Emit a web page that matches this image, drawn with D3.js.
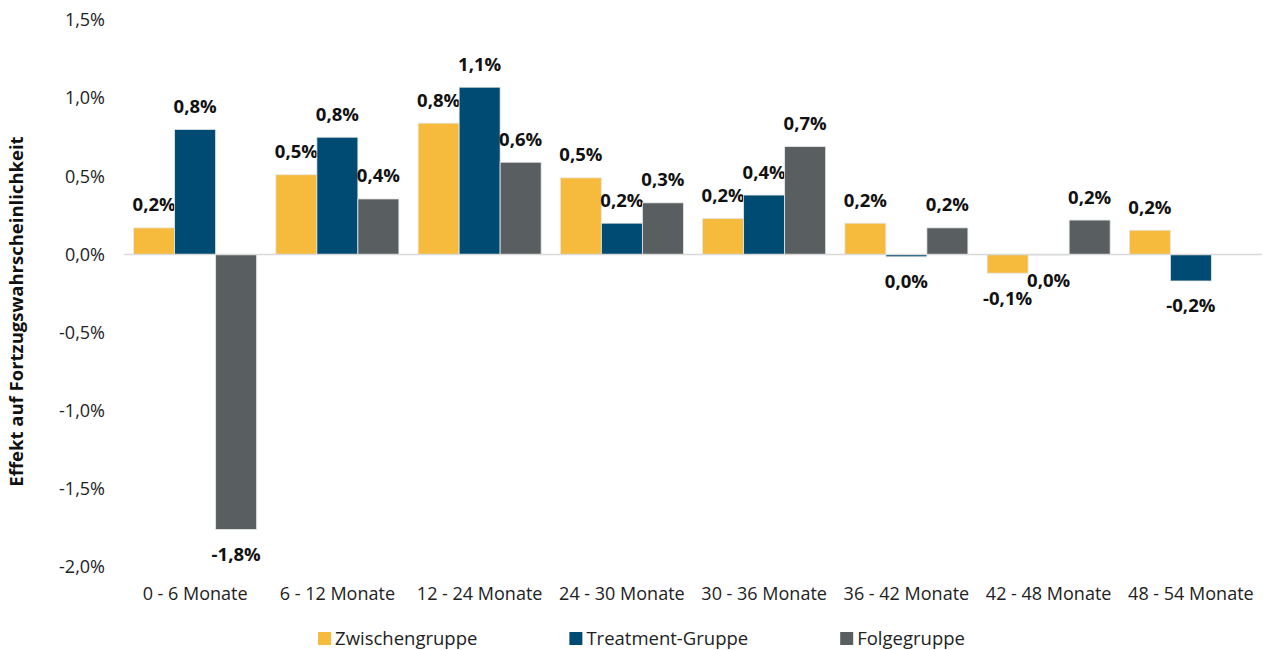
<!DOCTYPE html>
<html>
<head>
<meta charset="utf-8">
<script src="https://cdn.jsdelivr.net/npm/d3@7"></script>
<style>
  body { margin: 0; background: #fff; }
  svg { display: block; font-family: "Open Sans", sans-serif; }
</style>
</head>
<body>
<svg id="chart" width="1273" height="650"></svg>
<script>
const categories = ["0 - 6 Monate", "6 - 12 Monate", "12 - 24 Monate", "24 - 30 Monate",
                    "30 - 36 Monate", "36 - 42 Monate", "42 - 48 Monate", "48 - 54 Monate"];
const seriesNames = ["Zwischengruppe", "Treatment-Gruppe", "Folgegruppe"];
// values in percent
const zwischen  = [0.17, 0.51, 0.84, 0.49, 0.23, 0.20, -0.12, 0.155];
const treatment = [0.80, 0.75, 1.07, 0.20, 0.38, -0.015, -0.004, -0.17];
const folge     = [-1.76, 0.355, 0.59, 0.33, 0.69, 0.17, 0.22, null];
const yTicks = [-2, -1.5, -1, -0.5, 0, 0.5, 1, 1.5];

const colors = ["#F6BA3D", "#004B74", "#595F61"];
const series = [zwischen, treatment, folge];

const svg = d3.select("#chart"),
      plotLeft = 124, plotRight = 1262, plotTop = 20, plotBottom = 567,
      fontMain = "'Open Sans', sans-serif";

let x0 = d3.scaleBand()
    .domain(categories)
    .range([plotLeft, plotRight])
    .paddingInner(0.135)
    .paddingOuter(0.0675);

let x1 = d3.scaleBand()
    .domain(seriesNames)
    .range([0, x0.bandwidth()]);

let y = d3.scaleLinear()
    .domain([-2, 1.5])
    .range([plotBottom, plotTop]);

const deMinus = s => s.replace("\u2212", "-").replace(".", ",");
const fmt = v => deMinus(d3.format(".1f")(v)) + "%";
const fmtLabel = v => (Math.abs(v) < 0.05 ? "0,0" : deMinus(d3.format(".1f")(v))) + "%";

// y axis
let yAxis = d3.axisLeft(y).tickValues(yTicks).tickFormat(fmt).tickSize(0).tickPadding(0);
svg.append("g")
    .attr("transform", `translate(105,0)`)
    .call(yAxis)
    .call(g => g.select(".domain").remove())
    .selectAll("text")
    .attr("font-size", 18)
    .attr("font-family", fontMain)
    .attr("fill", "#222");

// bars
const groups = svg.append("g").selectAll("g")
    .data(categories)
    .join("g")
    .attr("transform", d => `translate(${x0(d)},0)`);

seriesNames.forEach((name, si) => {
    const vals = series[si];
    const val = d => vals[categories.indexOf(d)];
    const sel = groups.filter((d, i) => vals[i] !== null);

    sel.append("rect")
        .attr("x", x1(name))
        .attr("width", x1.bandwidth())
        .attr("y", d => y(Math.max(0, val(d))))
        .attr("height", d => Math.abs(y(val(d)) - y(0)))
        .attr("fill", colors[si])
        .attr("stroke", "#e8e8e8")
        .attr("stroke-width", 0.8);

    sel.append("text")
        .attr("x", x1(name) + x1.bandwidth() / 2)
        .attr("y", d => val(d) >= 0 ? y(val(d)) - 23 : y(val(d)) + 25)
        .attr("dy", "0.35em")
        .attr("text-anchor", "middle")
        .attr("font-size", 18.5)
        .attr("font-weight", "bold")
        .attr("fill", "#111")
        .text(d => fmtLabel(val(d)));
});

// zero line
svg.append("line")
    .attr("x1", plotLeft).attr("x2", plotRight)
    .attr("y1", y(0)).attr("y2", y(0))
    .attr("stroke", "#d9d9d9")
    .attr("stroke-width", 1.5);

// x axis labels
let xAxis = d3.axisBottom(x0).tickSize(0).tickPadding(0);
svg.append("g")
    .attr("transform", `translate(0,${plotBottom + 27})`)
    .call(xAxis)
    .call(g => g.select(".domain").remove())
    .selectAll("text")
    .attr("dy", "0.35em")
    .attr("font-size", 18)
    .attr("font-family", fontMain)
    .attr("fill", "#222");

// axis title
svg.append("text")
    .attr("transform", `translate(17,${(plotTop + plotBottom) / 2 + 18}) rotate(-90)`)
    .attr("text-anchor", "middle")
    .attr("dy", "0.35em")
    .attr("font-size", 18.5)
    .attr("font-weight", "bold")
    .attr("fill", "#111")
    .text("Effekt auf Fortzugswahrscheinlichkeit");

// legend
const legend = svg.append("g");
const items = legend.selectAll("g").data(seriesNames).join("g");
items.append("rect")
    .attr("width", 13).attr("height", 13)
    .attr("y", 632)
    .attr("fill", (d, i) => colors[i]);
items.append("text")
    .attr("x", 17)
    .attr("y", 639)
    .attr("dy", "0.35em")
    .attr("font-size", 18.5)
    .attr("fill", "#222")
    .text(d => d);
let widths = [];
items.each(function () { widths.push(this.getBBox().width); });
const gap = 92;
const total = d3.sum(widths) + gap * (widths.length - 1);
let cx = 641.5 - total / 2;
items.attr("transform", (d, i) => {
    const t = `translate(${cx},0)`;
    cx += widths[i] + gap;
    return t;
});
</script>
</body>
</html>
